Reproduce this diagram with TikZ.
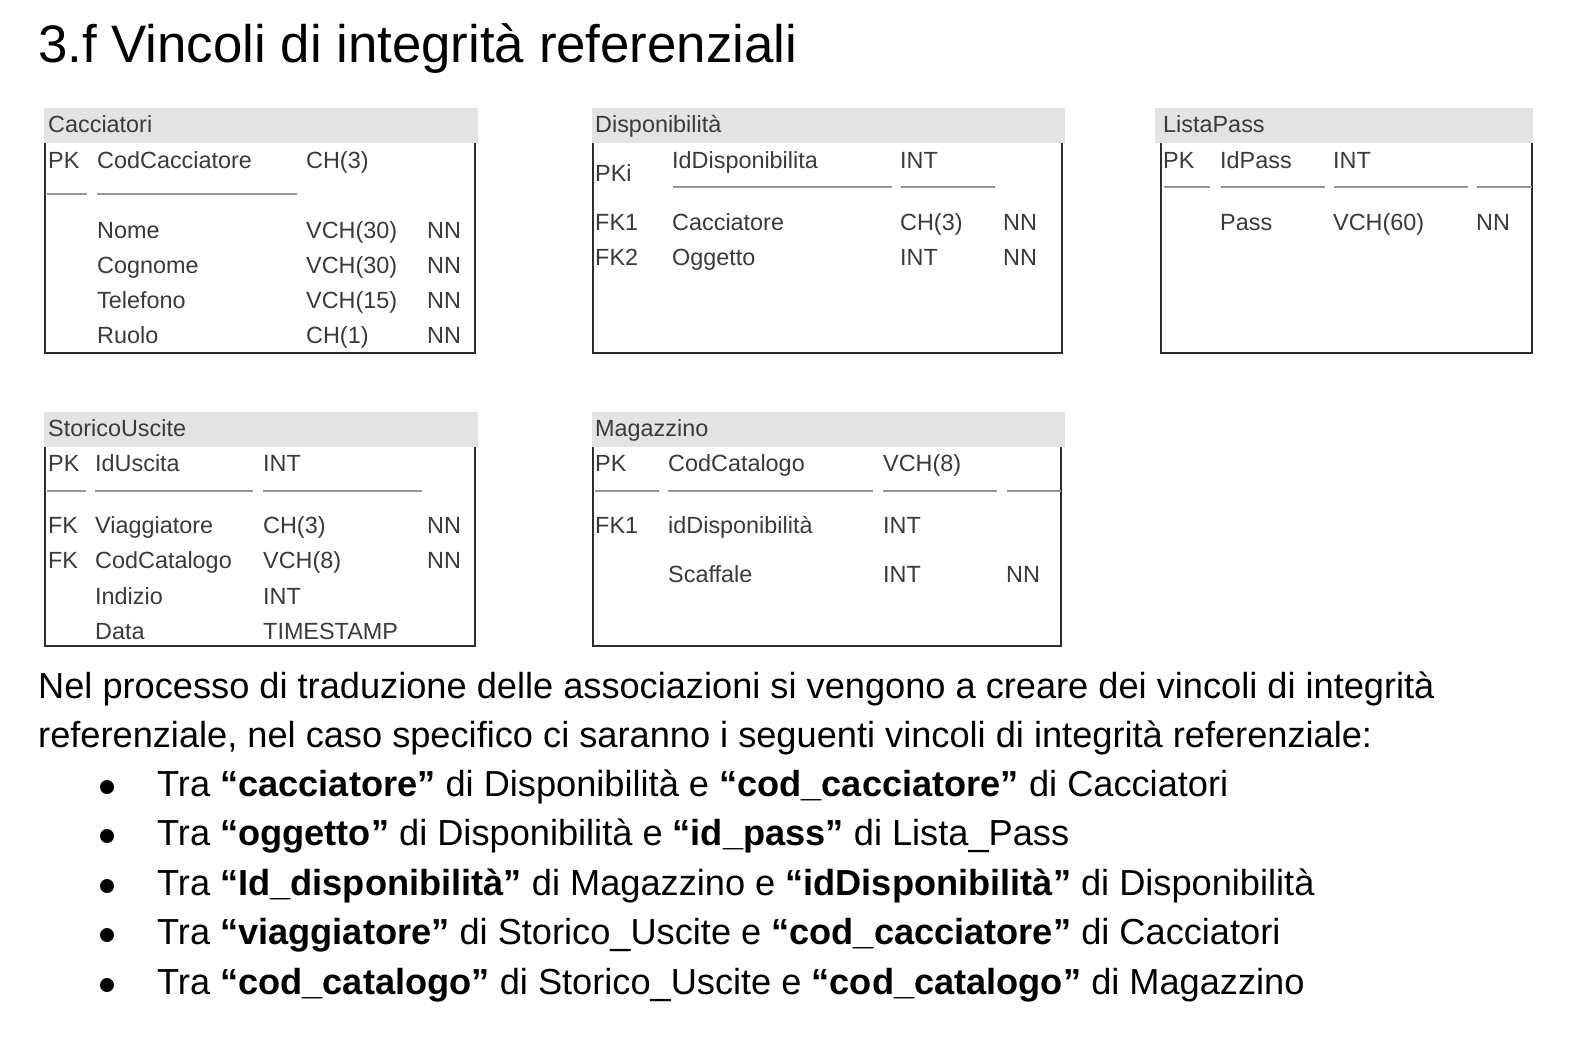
\documentclass[tikz,border=0pt]{standalone}
\usepackage{fontspec}
\setmainfont{Liberation Sans}
\begin{document}
\definecolor{tabtext}{RGB}{58,58,58}
\definecolor{hdrfill}{RGB}{227,227,227}
\definecolor{rulegray}{RGB}{150,150,150}
\definecolor{framecol}{RGB}{45,45,45}
\tikzset{
  cell/.style={anchor=base west, inner sep=0pt, text=tabtext, font=\fontsize{23.4}{27}\selectfont},
  para/.style={anchor=base west, inner sep=0pt, text=black, font=\fontsize{36.2}{42}\selectfont},
  bulletdot/.style={circle, fill=black, inner sep=0pt, minimum size=14pt},
  frame/.style={draw=framecol, line width=1.6pt},
  keyrule/.style={draw=rulegray, line width=1.4pt},
}
\newcommand\tcell[4]{\node[cell] (#1) at (#2,#3) {#4};}
% table body: left x, right x, header top, header bottom, body bottom, header left x, header right x
\newcommand\tframe[7]{%
  \draw[frame] (#1,#4) -- (#1,#5) -- (#2,#5) -- (#2,#4);
  \fill[hdrfill] (#6,#3) rectangle (#7,#4);
}
\begin{tikzpicture}[x=1pt,y=-1pt]
\useasboundingbox (0,0) rectangle (1572,1058);
\fill[white] (0,0) rectangle (1572,1058);

% title
\node[anchor=base west, inner sep=0pt, font=\fontsize{52.8}{60}\selectfont] (title) at (38,62) {3.f Vincoli di integrità referenziali};

% ---------- Cacciatori ----------
\tframe{45}{475}{108}{143}{353}{44}{478}
\tcell{cacT}{48}{132}{Cacciatori}
\tcell{cacPK}{48}{168}{PK}
\tcell{cacA}{97}{168}{CodCacciatore}
\tcell{cacAt}{306}{168}{CH(3)}
\draw[keyrule] (47,194) -- (87,194);
\draw[keyrule] (97,194) -- (297,194);
\tcell{cacB}{97}{238}{Nome}
\tcell{cacBt}{306}{238}{VCH(30)}
\tcell{cacBn}{427}{238}{NN}
\tcell{cacC}{97}{273}{Cognome}
\tcell{cacCt}{306}{273}{VCH(30)}
\tcell{cacCn}{427}{273}{NN}
\tcell{cacD}{97}{308}{Telefono}
\tcell{cacDt}{306}{308}{VCH(15)}
\tcell{cacDn}{427}{308}{NN}
\tcell{cacE}{97}{343}{Ruolo}
\tcell{cacEt}{306}{343}{CH(1)}
\tcell{cacEn}{427}{343}{NN}

% ---------- Disponibilità ----------
\tframe{593}{1062}{108}{143}{353}{592}{1065}
\tcell{disT}{595}{132}{Disponibilità}
\tcell{disPK}{595}{181}{PKi}
\tcell{disA}{672}{168}{IdDisponibilita}
\tcell{disAt}{900}{168}{INT}
\draw[keyrule] (673,187) -- (892,187);
\draw[keyrule] (901,187) -- (995,187);
\tcell{disFK1}{595}{230}{FK1}
\tcell{disB}{672}{230}{Cacciatore}
\tcell{disBt}{900}{230}{CH(3)}
\tcell{disBn}{1003}{230}{NN}
\tcell{disFK2}{595}{265}{FK2}
\tcell{disC}{672}{265}{Oggetto}
\tcell{disCt}{900}{265}{INT}
\tcell{disCn}{1003}{265}{NN}

% ---------- ListaPass ----------
\tframe{1161}{1532}{108}{143}{353}{1155}{1533}
\tcell{lpT}{1163}{132}{ListaPass}
\tcell{lpPK}{1163}{168}{PK}
\tcell{lpA}{1220}{168}{IdPass}
\tcell{lpAt}{1333}{168}{INT}
\draw[keyrule] (1164,187) -- (1210,187);
\draw[keyrule] (1221,187) -- (1325,187);
\draw[keyrule] (1334,187) -- (1468,187);
\draw[keyrule] (1477,187) -- (1532,187);
\tcell{lpB}{1220}{230}{Pass}
\tcell{lpBt}{1333}{230}{VCH(60)}
\tcell{lpBn}{1476}{230}{NN}

% ---------- StoricoUscite ----------
\tframe{45}{475}{412}{447}{646}{44}{478}
\tcell{suT}{48}{436}{StoricoUscite}
\tcell{suPK}{48}{471}{PK}
\tcell{suA}{95}{471}{IdUscita}
\tcell{suAt}{263}{471}{INT}
\draw[keyrule] (47,491) -- (86,491);
\draw[keyrule] (95,491) -- (253,491);
\draw[keyrule] (263,491) -- (422,491);
\tcell{suFKa}{48}{533}{FK}
\tcell{suB}{95}{533}{Viaggiatore}
\tcell{suBt}{263}{533}{CH(3)}
\tcell{suBn}{427}{533}{NN}
\tcell{suFKb}{48}{568}{FK}
\tcell{suC}{95}{568}{CodCatalogo}
\tcell{suCt}{263}{568}{VCH(8)}
\tcell{suCn}{427}{568}{NN}
\tcell{suD}{95}{604}{Indizio}
\tcell{suDt}{263}{604}{INT}
\tcell{suE}{95}{639}{Data}
\tcell{suEt}{263}{639}{TIMESTAMP}

% ---------- Magazzino ----------
\tframe{593}{1061}{412}{447}{646}{592}{1065}
\tcell{maT}{595}{436}{Magazzino}
\tcell{maPK}{595}{471}{PK}
\tcell{maA}{668}{471}{CodCatalogo}
\tcell{maAt}{883}{471}{VCH(8)}
\draw[keyrule] (595,491) -- (659,491);
\draw[keyrule] (668,491) -- (873,491);
\draw[keyrule] (883,491) -- (997,491);
\draw[keyrule] (1007,491) -- (1061,491);
\tcell{maFK}{595}{533}{FK1}
\tcell{maB}{668}{533}{idDisponibilità}
\tcell{maBt}{883}{533}{INT}
\tcell{maC}{668}{582}{Scaffale}
\tcell{maCt}{883}{582}{INT}
\tcell{maCn}{1006}{582}{NN}

% ---------- paragraph ----------
\node[para] (p1) at (38,698) {Nel processo di traduzione delle associazioni si vengono a creare dei vincoli di integrità};
\node[para] (p2) at (38,747) {referenziale, nel caso specifico ci saranno i seguenti vincoli di integrità referenziale:};

\node[bulletdot] (b1) at (107,787) {};
\node[para] (l1) at (157,796) {Tra \textbf{“cacciatore”} di Disponibilità e \textbf{“cod\_cacciatore”} di Cacciatori};
\node[bulletdot] (b2) at (107,836) {};
\node[para] (l2) at (157,845) {Tra \textbf{“oggetto”} di Disponibilità e \textbf{“id\_pass”} di Lista\_Pass};
\node[bulletdot] (b3) at (107,886) {};
\node[para] (l3) at (157,895) {Tra \textbf{“Id\_disponibilità”} di Magazzino e \textbf{“idDisponibilità”} di Disponibilità};
\node[bulletdot] (b4) at (107,935) {};
\node[para] (l4) at (157,944) {Tra \textbf{“viaggiatore”} di Storico\_Uscite e \textbf{“cod\_cacciatore”} di Cacciatori};
\node[bulletdot] (b5) at (107,985) {};
\node[para] (l5) at (157,994) {Tra \textbf{“cod\_catalogo”} di Storico\_Uscite e \textbf{“cod\_catalogo”} di Magazzino};
\end{tikzpicture}
\end{document}
